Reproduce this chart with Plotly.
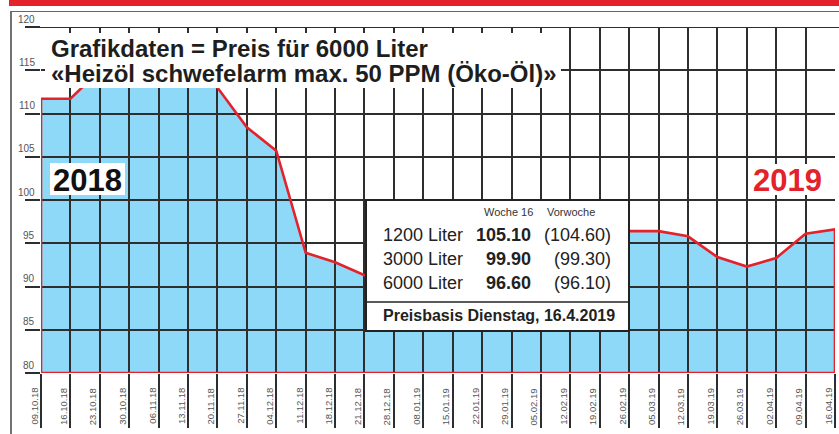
import plotly.graph_objects as go

# ---------------- data ----------------
DATES = ["09.10.18", "16.10.18", "23.10.18", "30.10.18", "06.11.18", "13.11.18",
         "20.11.18", "27.11.18", "04.12.18", "11.12.18", "18.12.18", "21.12.18",
         "28.12.18", "08.01.19", "15.01.19", "22.01.19", "29.01.19", "05.02.19",
         "12.02.19", "19.02.19", "26.02.19", "05.03.19", "12.03.19", "19.03.19",
         "26.03.19", "02.04.19", "09.04.19", "16.04.19"]
PRICE_6000 = [111.7, 111.7, 115.0, 116.5, 117.0, 116.0,
              113.0, 108.4, 105.7, 93.9, 92.8, 91.3,
              90.6, 91.2, 92.0, 93.1, 93.8, 94.4,
              95.0, 95.8, 96.4, 96.4, 95.8, 93.4,
              92.3, 93.3, 96.1, 96.6]
Y_TICKS = [80, 85, 90, 95, 100, 105, 110, 115, 120]

TITLE_LINES = ["Grafikdaten = Preis für 6000 Liter",
               "«Heizöl schwefelarm max. 50 PPM (Öko-Öl)»"]
YEAR_LABELS = ["2018", "2019"]
INFO_HEADER = ["Woche 16", "Vorwoche"]
INFO_QUANT = ["1200 Liter", "3000 Liter", "6000 Liter"]
INFO_WEEK16 = ["105.10", "99.90", "96.60"]
INFO_PREV = ["(104.60)", "(99.30)", "(96.10)"]
INFO_FOOT = "Preisbasis Dienstag, 16.4.2019"

# ---------------- styling / layout helpers ----------------
W, H = 839, 434
ML, MR, MT, MB = 41, 4, 27, 61
PW, PH = W - ML - MR, H - MT - MB
RED = "#E3222B"
BLUE = "#8ED8F8"
GRID = "#2e2e2e"
MAIN = "Liberation Sans, Arial, sans-serif"


def px2x(px):
    return (px - ML) / PW


def py2y(py):
    return (H - MB - py) / PH


idx = list(range(len(DATES)))
base = Y_TICKS[0]

# area outline (in data coordinates) closed down to the axis baseline
area_x = [idx[0]] + idx + [idx[-1], idx[0]]
area_y = [base] + PRICE_6000 + [base, base]

# blue fill drawn beneath the grid (shape layer "below"), in data coordinates
fill_path = "M " + " L ".join("%s,%s" % (x, y) for x, y in zip(area_x, area_y)) + " Z"

fig = go.Figure()
fig.add_trace(go.Scatter(
    x=area_x, y=area_y, mode="lines",
    line=dict(color=RED, width=2.6), hoverinfo="skip", showlegend=False,
    cliponaxis=False))

annotations = []
# date labels
for i, d in zip(idx, DATES):
    annotations.append(dict(x=i, xref="x", y=py2y(386), yref="paper",
                            xanchor="center", yanchor="top", xshift=-7,
                            textangle=-90, text=d, showarrow=False,
                            font=dict(family=MAIN, size=9.5, color="#555")))
# y labels
for v in Y_TICKS:
    annotations.append(dict(x=px2x(37), xref="paper", y=v, yref="y",
                            xanchor="right", yanchor="middle", yshift=8,
                            text=str(v), showarrow=False,
                            font=dict(family=MAIN, size=10, color="#555")))
# title
for t, py in zip(TITLE_LINES, [48, 73]):
    annotations.append(dict(x=px2x(49), xref="paper", y=py2y(py), yref="paper",
                            xanchor="left", yanchor="middle", text="<b>%s</b>" % t,
                            showarrow=False,
                            font=dict(family=MAIN, size=24, color="#1e1e1e")))
# year labels
for t, px, col in zip(YEAR_LABELS, [87, 787], ["#111", RED]):
    annotations.append(dict(x=px2x(px), xref="paper", y=py2y(180), yref="paper",
                            xanchor="center", yanchor="middle", text="<b>%s</b>" % t,
                            showarrow=False, font=dict(family=MAIN, size=31, color=col)))
# info box texts
for t, px in zip(INFO_HEADER, [508, 571]):
    annotations.append(dict(x=px2x(px), xref="paper", y=py2y(212), yref="paper",
                            xanchor="center", yanchor="middle", text=t, showarrow=False,
                            font=dict(family=MAIN, size=11, color="#333")))
for q, a, b, py in zip(INFO_QUANT, INFO_WEEK16, INFO_PREV, [235, 259, 283]):
    annotations.append(dict(x=px2x(381), xref="paper", y=py2y(py), yref="paper",
                            xanchor="left", yanchor="middle", text=q, showarrow=False,
                            font=dict(family=MAIN, size=18, color="#222")))
    annotations.append(dict(x=px2x(533), xref="paper", y=py2y(py), yref="paper",
                            xanchor="right", yanchor="middle", text="<b>%s</b>" % a,
                            showarrow=False,
                            font=dict(family=MAIN, size=18, color="#222")))
    annotations.append(dict(x=px2x(613), xref="paper", y=py2y(py), yref="paper",
                            xanchor="right", yanchor="middle", text=b, showarrow=False,
                            font=dict(family=MAIN, size=18, color="#222")))
annotations.append(dict(x=px2x(381), xref="paper", y=py2y(315), yref="paper",
                        xanchor="left", yanchor="middle", text="<b>%s</b>" % INFO_FOOT,
                        showarrow=False, font=dict(family=MAIN, size=16, color="#222")))

shapes = [
    # blue area under the grid
    dict(type="path", xref="x", yref="y", path=fill_path, fillcolor=BLUE,
         line=dict(width=0), layer="below"),
    # red header bar
    dict(type="rect", xref="paper", yref="paper", x0=px2x(9), x1=px2x(W + 2),
         y0=py2y(6), y1=py2y(-2), fillcolor=RED, line=dict(width=0), layer="above"),
    # outer frame
    dict(type="line", xref="paper", yref="paper", x0=px2x(11), x1=px2x(11),
         y0=py2y(11), y1=py2y(H + 2), line=dict(color="#444", width=1.5)),
    dict(type="line", xref="paper", yref="paper", x0=px2x(11), x1=px2x(W + 2),
         y0=py2y(11.5), y1=py2y(11.5), line=dict(color="#666", width=1.2)),
    # top (120) rule
    dict(type="line", xref="paper", yref="y", x0=px2x(26), x1=px2x(W + 2),
         y0=Y_TICKS[-1], y1=Y_TICKS[-1], line=dict(color=GRID, width=2)),
    # title box
    dict(type="rect", xref="paper", yref="paper", x0=px2x(45), x1=px2x(561),
         y0=py2y(88), y1=py2y(33), fillcolor="white", line=dict(width=0), layer="above"),
    # year boxes
    dict(type="rect", xref="paper", yref="paper", x0=px2x(50), x1=px2x(125),
         y0=py2y(195), y1=py2y(163), fillcolor="white", line=dict(width=0), layer="above"),
    dict(type="rect", xref="paper", yref="paper", x0=px2x(751), x1=px2x(824),
         y0=py2y(195), y1=py2y(164), fillcolor="white", line=dict(width=0), layer="above"),
    # info box
    dict(type="rect", xref="paper", yref="paper", x0=px2x(366), x1=px2x(629),
         y0=py2y(331), y1=py2y(200), fillcolor="white",
         line=dict(color="#222", width=2), layer="above"),
    dict(type="line", xref="paper", yref="paper", x0=px2x(366), x1=px2x(629),
         y0=py2y(302), y1=py2y(302), line=dict(color="#222", width=1.5), layer="above"),
]

fig.update_layout(
    width=W, height=H, margin=dict(l=ML, r=MR, t=MT, b=MB),
    paper_bgcolor="white", plot_bgcolor="rgba(0,0,0,0)",
    xaxis=dict(range=[idx[0], idx[-1]], tickvals=idx, showticklabels=False,
               showgrid=True, gridcolor=GRID, gridwidth=1.6,
               ticks="outside", ticklen=54, tickwidth=1.6, tickcolor=GRID,
               zeroline=False, showline=False, fixedrange=True),
    yaxis=dict(range=[Y_TICKS[0], Y_TICKS[-1]], tickvals=Y_TICKS, showticklabels=False,
               showgrid=True, gridcolor=GRID, gridwidth=1.6,
               ticks="outside", ticklen=15, tickwidth=1.6, tickcolor=GRID,
               zeroline=False, showline=False, fixedrange=True),
    annotations=annotations, shapes=shapes, showlegend=False,
)

fig.write_html("out.html", config={"displayModeBar": False},
               post_script="document.body.style.margin='0';"
                           "document.body.style.overflow='hidden';")
